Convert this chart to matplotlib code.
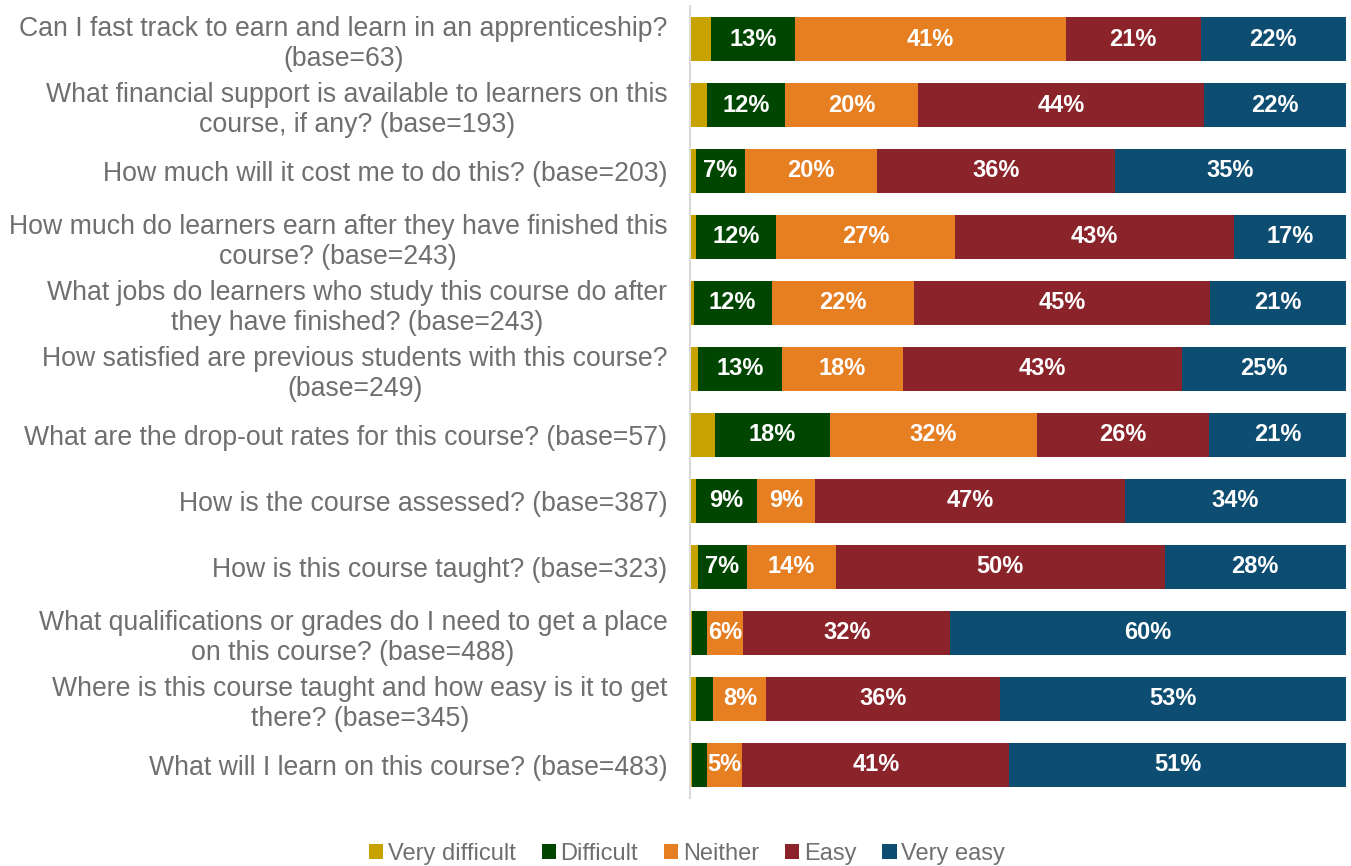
import matplotlib.pyplot as plt

plt.rcParams['font.family'] = ['Liberation Sans', 'DejaVu Sans']

questions = [
    "Can I fast track to earn and learn in an apprenticeship?\n(base=63)",
    "What financial support is available to learners on this\ncourse, if any? (base=193)",
    "How much will it cost me to do this? (base=203)",
    "How much do learners earn after they have finished this\ncourse? (base=243)",
    "What jobs do learners who study this course do after\nthey have finished? (base=243)",
    "How satisfied are previous students with this course?\n(base=249)",
    "What are the drop-out rates for this course? (base=57)",
    "How is the course assessed? (base=387)",
    "How is this course taught? (base=323)",
    "What qualifications or grades do I need to get a place\non this course? (base=488)",
    "Where is this course taught and how easy is it to get\nthere? (base=345)",
    "What will I learn on this course? (base=483)",
]

very_difficult = [3.2, 2.6, 0.9, 0.9, 0.5, 1.2, 3.7, 0.8, 1.2, 0.2, 0.9, 0.3]
difficult = [12.7, 11.9, 7.4, 12.2, 11.9, 12.8, 17.6, 9.3, 7.4, 2.3, 2.6, 2.3]
neither = [41.4, 20.3, 20.2, 27.3, 21.7, 18.4, 31.6, 8.9, 13.6, 5.6, 8.1, 5.3]
easy = [20.6, 43.6, 36.3, 42.6, 45.2, 42.6, 26.3, 47.3, 50.2, 31.6, 35.6, 40.8]
very_easy = [22.1, 21.6, 35.2, 17.0, 20.7, 25.0, 20.8, 33.7, 27.6, 60.3, 52.8, 51.3]

series = ["Very difficult", "Difficult", "Neither", "Easy", "Very easy"]
colors = ["#C8A200", "#004600", "#E67E22", "#8A242A", "#0E4D72"]

fig = plt.figure(figsize=(13.51, 8.66), dpi=100)
ax = fig.add_axes([0.511, 0.079, 0.485, 0.914])

y = list(range(len(questions)))
left = [0.0] * len(questions)
for name, vals, col in zip(series, [very_difficult, difficult, neither, easy, very_easy], colors):
    bars = ax.barh(y, vals, left=left, height=0.67, color=col, label=name)
    for b, v in zip(bars, vals):
        if v >= 4:
            ax.text(b.get_x() + b.get_width() / 2, b.get_y() + b.get_height() / 2,
                    f"{round(v)}%", ha='center', va='center', color='white',
                    fontsize=17, fontweight='bold')
    left = [l + v for l, v in zip(left, vals)]

ax.set_xlim(0, 100)
ax.set_ylim(len(questions) - 0.5, -0.5)
ax.set_yticks(y)
ax.set_yticklabels(questions, fontsize=19.2, color='#6f6f6f', multialignment='center',
                   linespacing=1.2)
ax.tick_params(axis='y', length=0, pad=16.5)
ax.set_xticks([])
for s in ['top', 'right', 'bottom']:
    ax.spines[s].set_visible(False)
ax.spines['left'].set_color('#d9d9d9')
ax.spines['left'].set_linewidth(1.5)

handles, labels = ax.get_legend_handles_labels()
fig.legend(handles, labels, loc='center', bbox_to_anchor=(0.5085, 0.014), ncol=5,
           frameon=False, fontsize=17, labelcolor='#6f6f6f', handlelength=0.6,
           handleheight=0.6, handletextpad=0.2, columnspacing=1.1)

fig.savefig("out.png", dpi=100)
